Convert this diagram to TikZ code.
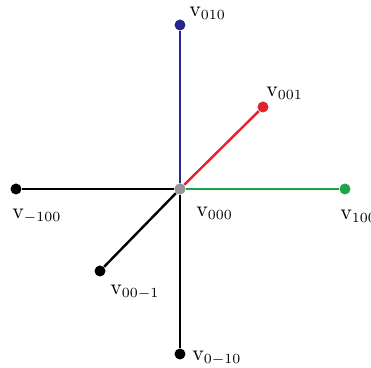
\documentclass[tikz,border=0pt]{standalone}
\usepackage{amsmath}
\usepackage{tikz}
\usetikzlibrary{positioning}
\definecolor{axblue}{RGB}{40,40,140}
\definecolor{axred}{RGB}{225,35,45}
\definecolor{axgreen}{RGB}{30,165,75}
\definecolor{axgray}{RGB}{150,150,150}
\tikzset{
  % lattice vertices
  vdot/.style={circle, fill=black, inner sep=0pt, minimum size=5.5pt},
  vlabel/.style={font=\fontsize{10.5}{12}\selectfont, inner sep=1pt},
  axline/.style={line width=1.2pt}
}
\begin{document}
\begin{tikzpicture}[x=0.5pt, y=0.5pt]
  \useasboundingbox (-180,-179) rectangle (191,189);

  \node[vdot, fill=axgray] (v000) at (0,0) {};
  \node[vdot, fill=axblue] (v010) at (0,164) {};
  \node[vdot, fill=axred] (v001) at (83,82) {};
  \node[vdot] (vm100) at (-164,0) {};
  \node[vdot, fill=axgreen] (v100) at (165,0) {};
  \node[vdot] (v00m1) at (-80,-82) {};
  \node[vdot] (v0m10) at (0,-165) {};

  \draw[axline, axblue] (v000)--(v010);
  \draw[axline, axred] (v000)--(v001);
  \draw[axline] (v000)--(vm100);
  \draw[axline, axgreen] (v000)--(v100);
  \draw[axline] (v000)--(v00m1);
  \draw[axline] (v000)--(v0m10);
  \node[vdot, fill=axgray] at (v000) {};

  % vertex labels
  \node[vlabel, anchor=west] (l010) at ([xshift=3.5pt, yshift=6pt]v010) {$\mathrm{v}_{010}$};
  \node[vlabel, anchor=west] (l001) at ([xshift=0.5pt, yshift=7pt]v001) {$\mathrm{v}_{001}$};
  \node[vlabel, anchor=west] (lm100) at ([xshift=-3pt, yshift=-13.5pt]vm100) {$\mathrm{v}_{-100}$};
  \node[vlabel, anchor=west] (l000) at ([xshift=7pt, yshift=-12pt]v000) {$\mathrm{v}_{000}$};
  \node[vlabel, anchor=west] (l100) at ([xshift=-3.5pt, yshift=-13.5pt]v100) {$\mathrm{v}_{100}$};
  \node[vlabel, anchor=west] (l00m1) at ([xshift=4pt, yshift=-10.5pt]v00m1) {$\mathrm{v}_{00-1}$};
  \node[vlabel, anchor=west] (l0m10) at ([xshift=5pt, yshift=-2pt]v0m10) {$\mathrm{v}_{0-10}$};
\end{tikzpicture}
\end{document}
